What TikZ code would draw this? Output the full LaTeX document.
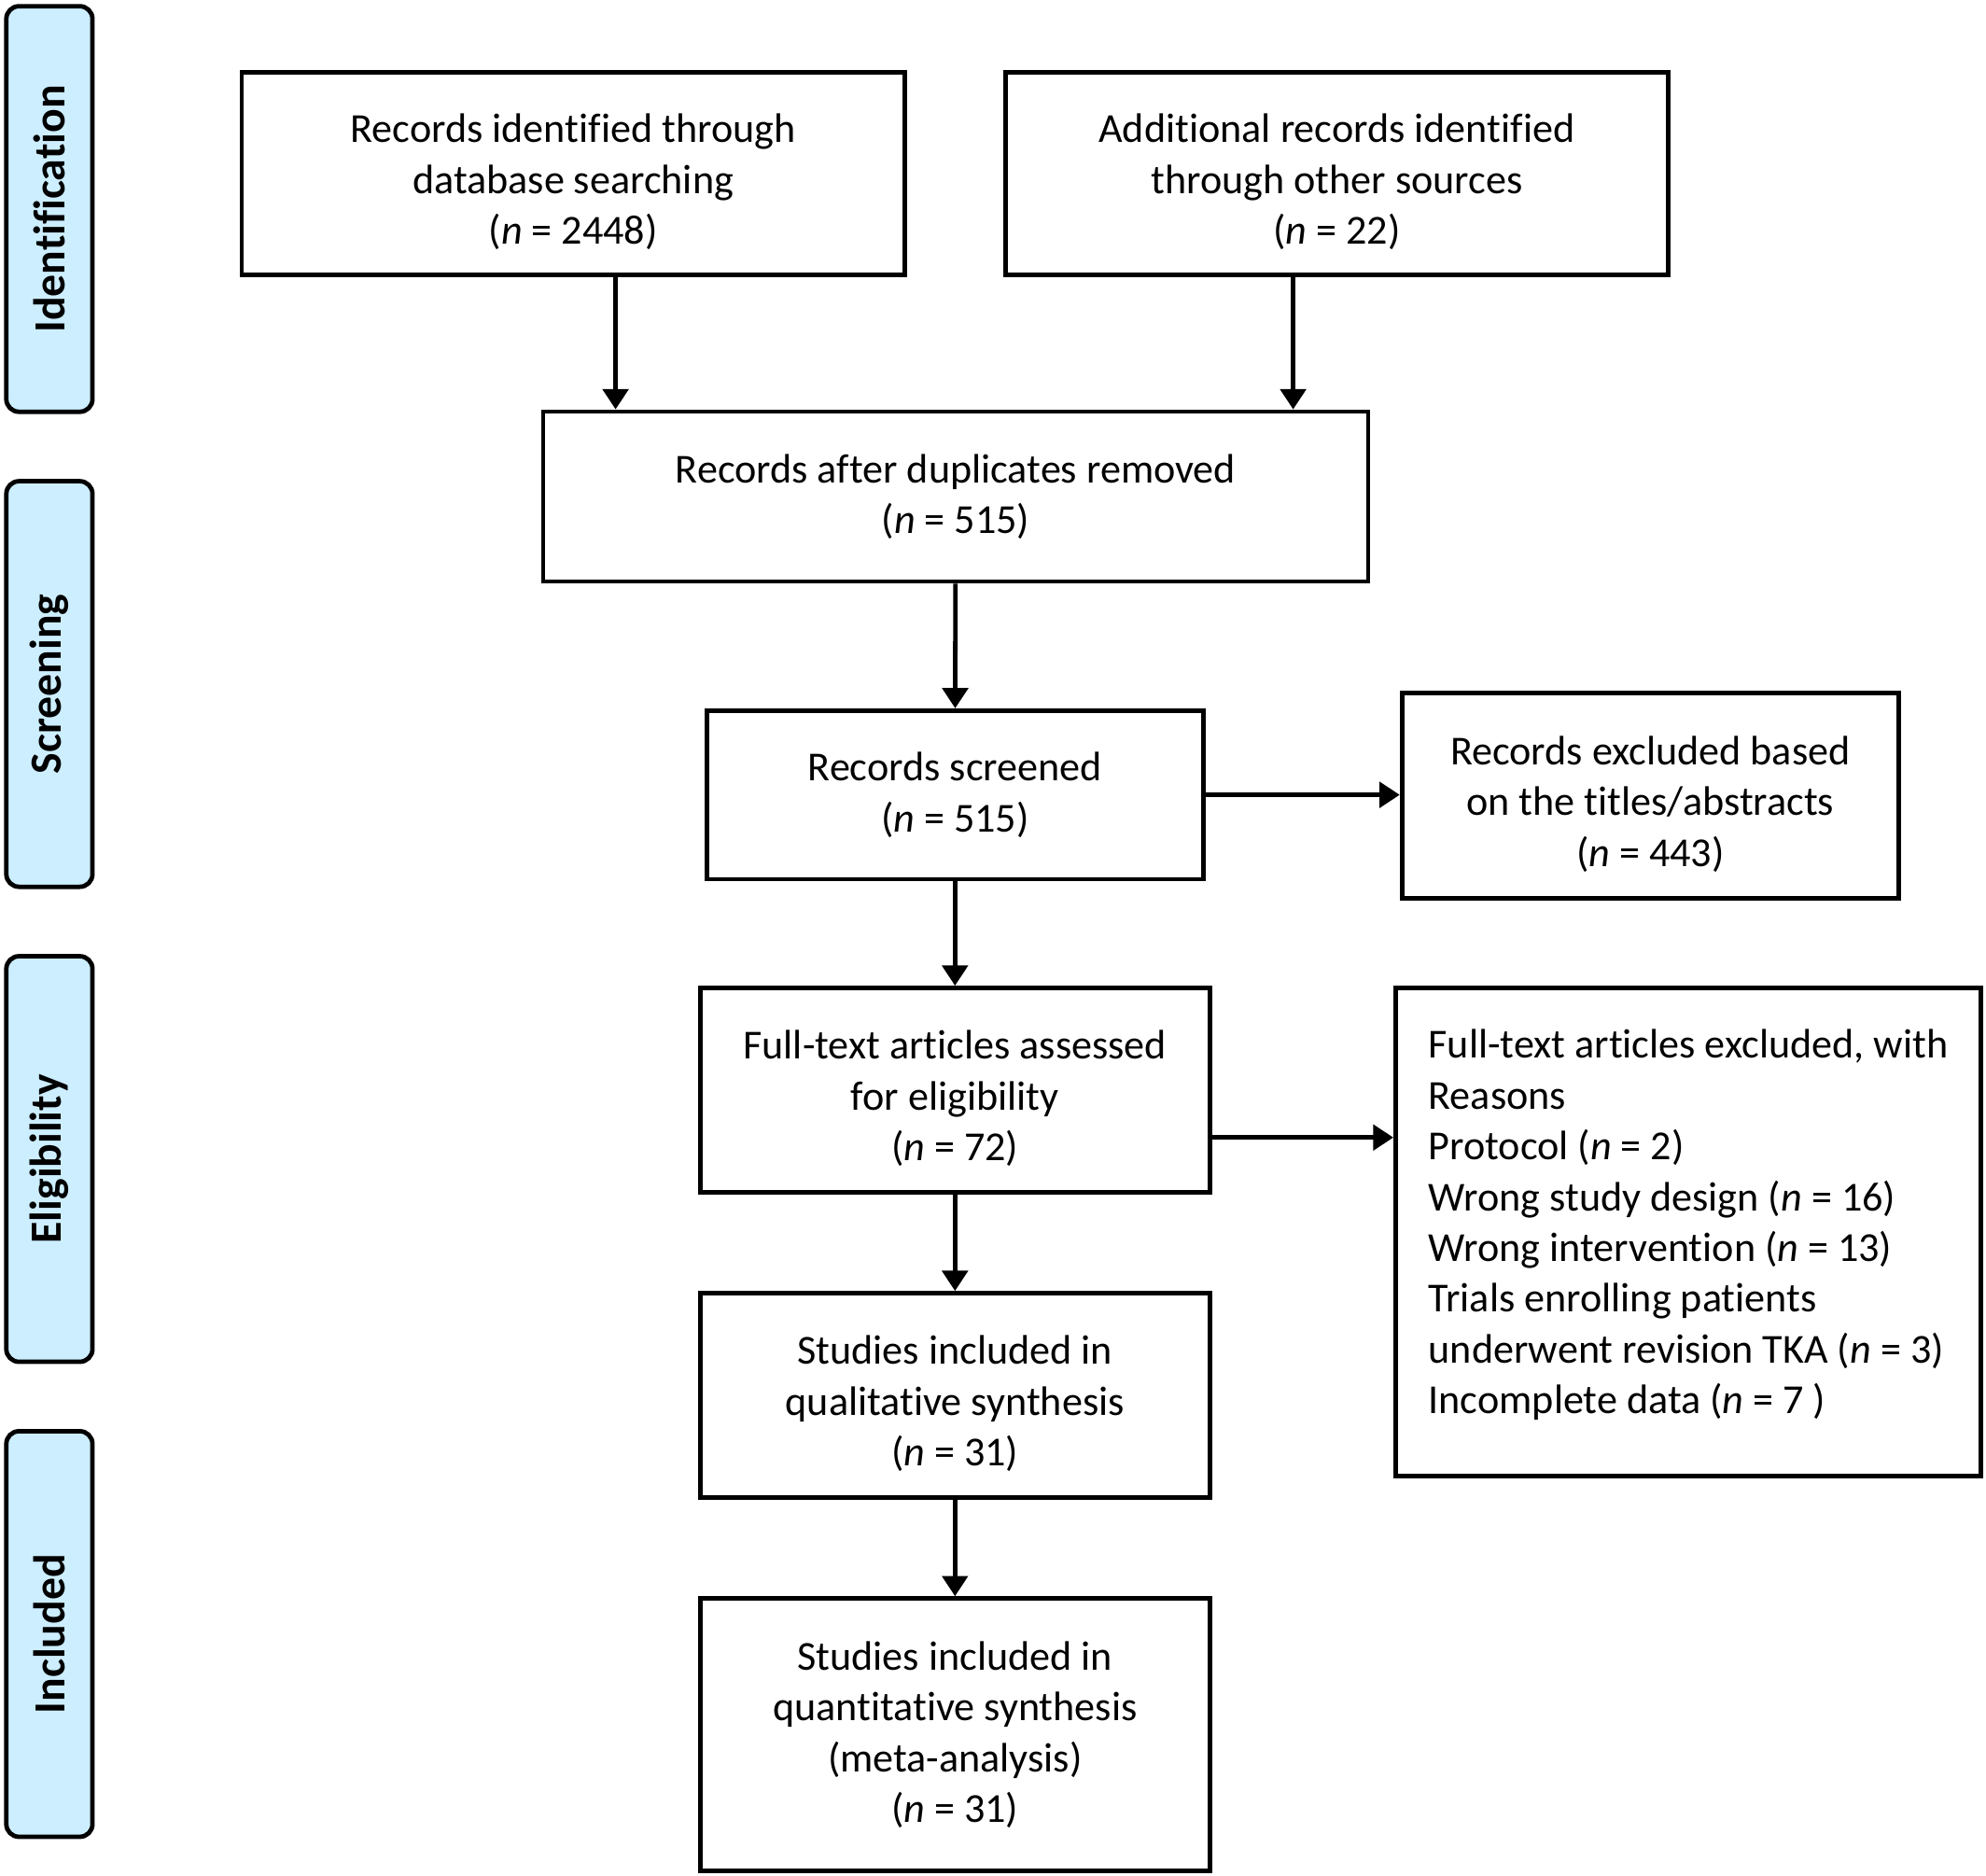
\documentclass[tikz,border=0pt]{standalone}
\usepackage{fontspec}
\setmainfont{Carlito}[Ligatures=NoCommon]
\usetikzlibrary{arrows.meta}

\definecolor{phasecol}{RGB}{204,238,255}
\newcommand{\lowstrut}{\rule{0pt}{0.36cm}}

\tikzset{
  flowbox/.style={draw, line width=1pt, align=center, inner sep=0pt,
    font=\fontsize{9.25}{11.4}\selectfont},
  hightext/.style={execute at end node={\rule[-0.16cm]{0pt}{0pt}}},
  phase/.style={draw, line width=1pt, fill=phasecol, rounded corners=0.1cm,
    rotate=90, minimum width=3.2cm, minimum height=0.68cm, inner sep=0pt,
    font=\fontsize{10}{12}\selectfont\bfseries},
  arr/.style={line width=1pt, -{Triangle[length=1.6mm,width=2mm]}}
}

\begin{document}
\begin{tikzpicture}[x=0.01cm,y=-0.01cm]
\useasboundingbox (0,0) rectangle (1568,1481);

\foreach \ph [count=\i from 0] in {Identification,Screening,Eligibility,Included}
  \node [phase] (phase\i) at (39,165+\i*375) {\ph};

\node [flowbox, minimum width=5.23cm, minimum height=1.6cm] (db) at (452.5,137)
  {\lowstrut Records identified through\\database searching\\(\textit{n} = 2448)};
\node [flowbox, minimum width=5.23cm, minimum height=1.6cm] (other) at (1055.5,137)
  {\lowstrut Additional records identified\\through other sources\\(\textit{n} = 22)};
\node [flowbox, minimum width=6.51cm, minimum height=1.34cm] (dup) at (754.5,392)
  {Records after duplicates removed\\(\textit{n} = 515)};
\node [flowbox, minimum width=3.92cm, minimum height=1.33cm] (screened) at (754,627.5)
  {Records screened\\(\textit{n} = 515)};
\node [flowbox, minimum width=3.92cm, minimum height=1.62cm] (excl1) at (1303,628)
  {\lowstrut Records excluded based\\on the titles/abstracts\\(\textit{n} = 443)};
\node [flowbox, minimum width=4.02cm, minimum height=1.61cm] (fulltext) at (754,860.5)
  {\lowstrut Full-text articles assessed\\for eligibility\\(\textit{n} = 72)};
\node [flowbox, hightext, align=left, minimum width=4.62cm, minimum height=3.85cm] (excl2) at (1333,972.5)
  {Full-text articles excluded, with\\Reasons\\Protocol (\textit{n} = 2)\\
   Wrong study design (\textit{n} = 16)\\Wrong intervention (\textit{n} = 13)\\
   Trials enrolling patients\\underwent revision TKA (\textit{n} = 3)\\
   Incomplete data (\textit{n} = 7 )};
\node [flowbox, minimum width=4.02cm, minimum height=1.61cm] (qual) at (754,1101.5)
  {\lowstrut Studies included in\\qualitative synthesis\\(\textit{n} = 31)};
\node [flowbox, minimum width=4.02cm, minimum height=2.15cm] (quant) at (754,1369.5)
  {Studies included in\\quantitative synthesis\\(meta-analysis)\\(\textit{n} = 31)};

\draw [arr] ([xshift=0.335cm]db.south) -- ([xshift=0.335cm]db.south |- dup.north);
\draw [arr] ([xshift=-0.345cm]other.south) -- ([xshift=-0.345cm]other.south |- dup.north);
\draw [arr] (dup) -- (screened);
\draw [arr] (screened.east) -- (screened.east -| excl1.west);
\draw [arr] (screened) -- (fulltext);
\draw [arr] ([yshift=-0.375cm]fulltext.east) -- ([yshift=-0.375cm]fulltext.east -| excl2.west);
\draw [arr] (fulltext) -- (qual);
\draw [arr] (qual) -- (quant);

\end{tikzpicture}
\end{document}
